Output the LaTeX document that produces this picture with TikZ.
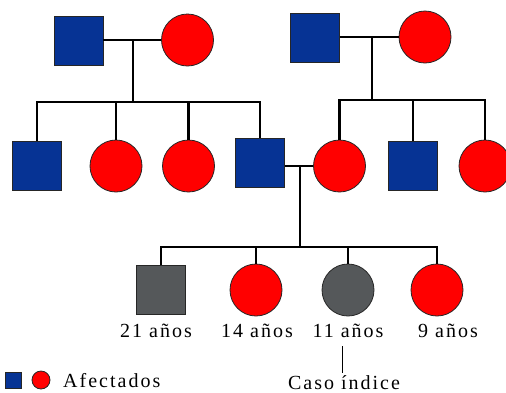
\documentclass[tikz,border=0pt]{standalone}
\usepackage{fontspec}
\setmainfont{Liberation Serif}
\newfontfamily\espaciada[LetterSpace=10]{Liberation Serif}
\usetikzlibrary{positioning,calc}
\definecolor{azul}{RGB}{6,51,148}
\definecolor{gris}{RGB}{85,88,90}
\tikzset{
  varon/.style={draw=black!85,line width=0.8pt,fill=azul,minimum size=49pt,inner sep=0pt},
  mujer/.style={circle,draw=black!85,line width=0.8pt,fill=red,minimum size=52pt,inner sep=0pt},
  afectado/.style={fill=gris},
  linea/.style={line width=2.8pt},
  guia/.style={line width=0.9pt},
  edad/.style={font=\fontsize{20}{22}\espaciada,inner sep=0pt,anchor=base},
}

\begin{document}
\begin{tikzpicture}[x=1pt,y=-1pt]
  \clip (0,0) rectangle (506,392);
  % abuelos
  \node[varon] (ab1) at (78.5,41) {};
  \node[mujer] (aa1) at (187.5,40) {};
  \node[varon] (ab2) at (315,38) {};
  \node[mujer] (aa2) at (425,37) {};
  % padres y tios
  \node[varon] (t1) at (37,166) {};
  \node[mujer] (t2) at (116,166) {};
  \node[mujer] (t3) at (188.5,166) {};
  \node[varon] (pa) at (260,163) {};
  \node[mujer] (ma) at (339.5,166) {};
  \node[varon] (t6) at (413,166) {};
  \node[mujer] (t7) at (485,166) {};
  % hijos
  \node[varon,afectado] (h1) at (161,290) {};
  \node[mujer] (h2) at (256,290) {};
  \node[mujer,afectado] (h3) at (348,290) {};
  \node[mujer] (h4) at (437,290) {};
  \node[edad] (e1) at (156,337) {21 años};
  \node[edad] (e2) at (257,337) {14 años};
  \node[edad] (e3) at (348,337) {11 años};
  \node[edad] (e4) at (448,337) {9 años};
  \node[edad] (caso) at (344,389) {Caso índice};
  % uniones
  \coordinate (j1) at (133,40);
  \coordinate (b1) at (133,102);
  \coordinate (j2) at (372,37);
  \coordinate (b2) at (372,100);
  \coordinate (j3) at (300,166);
  \coordinate (b3) at (300,247);
  \draw[linea] (ab1.east |- aa1.west) -- (aa1.west);
  \draw[linea] (j1) -- (b1);
  \draw[linea] (t1.north) |- (b1) -| (pa.north);
  \draw[linea] (t2.north) -- (t2.north |- b1);
  \draw[linea] (t3.north) -- (t3.north |- b1);
  \draw[linea] (ab2.east |- aa2.west) -- (aa2.west);
  \draw[linea] (j2) -- (b2);
  \draw[linea] (ma.north) |- (b2) -| (t7.north);
  \draw[linea] (t6.north) -- (t6.north |- b2);
  \draw[linea] (pa.east |- ma.west) -- (ma.west);
  \draw[linea] (j3) -- (b3);
  \draw[linea] (h1.north) |- (b3) -| (h4.north);
  \draw[linea] (h2.north) -- (h2.north |- b3);
  \draw[linea] (h3.north) -- (h3.north |- b3);
  \draw[guia,shorten <=2pt,shorten >=9pt] ([xshift=-2pt]caso.north) -- ([xshift=-2pt]caso.north |- e3.south);
  % leyenda
  \node[varon,minimum size=16pt] (lv) at (13,380) {};
  \node[mujer,minimum size=18pt] (lm) at (41,380) {};
  \node[edad,anchor=base west] (ley) at (63,387) {Afectados};
\end{tikzpicture}
\end{document}
